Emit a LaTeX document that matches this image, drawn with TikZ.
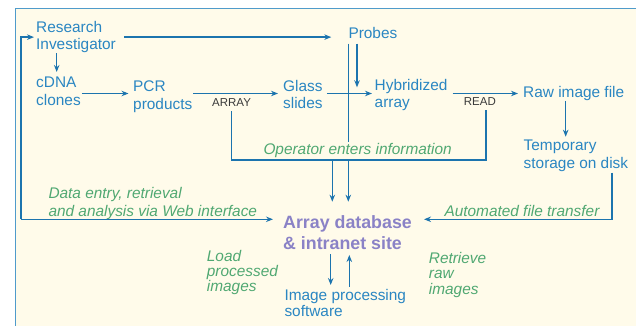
\documentclass[tikz,border=0pt]{standalone}
\usepackage{fontspec}
\setmainfont{Liberation Sans}
\usepackage{xcolor}
\usepackage{tikz}
\usetikzlibrary{arrows.meta, positioning}
\definecolor{frameblue}{HTML}{4F9BCB}
\definecolor{paper}{HTML}{FFFBEA}
\definecolor{flowblue}{HTML}{1C74AE}
\definecolor{textblue}{HTML}{2A86C2}
\definecolor{notegreen}{HTML}{50A872}
\definecolor{dbpurple}{HTML}{8A82C6}
\definecolor{tagdark}{HTML}{3A3A3A}
\tikzset{
  stage/.style={anchor=north west, inner sep=0pt, align=left, text=textblue, font=\fontsize{15.4}{17.5}\selectfont},
  note/.style={anchor=north west, inner sep=0pt, align=left, text=notegreen, font=\fontsize{15.4}{18}\selectfont\itshape},
  tag/.style={anchor=north west, inner sep=0pt, text=tagdark, font=\fontsize{11.5}{13}\selectfont},
  flow/.style={draw=flowblue, line width=1.3pt},
  flowarr/.style={flow, -{Stealth[length=7pt,width=5.5pt]}}
}
\begin{document}
\begin{tikzpicture}[x=1pt, y=-1pt]
  \useasboundingbox (0,0) rectangle (636,326);
  \fill[paper] (15.5,8.5) rectangle (636,326);
  \draw[frameblue, line width=1.5pt] (15.5,326) -- (15.5,8.5) -- (636,8.5);
  \node[stage] (research) at (36,21) {Research\\Investigator};
  \node[stage] (probes) at (348.3,27) {Probes};
  \node[stage] (cdna) at (36,77) {cDNA\\clones};
  \node[stage] (pcr) at (133,81) {PCR\\products};
  \node[stage] (glass) at (283,80) {Glass\\slides};
  \node[stage] (hyb) at (374.5,79) {Hybridized\\array};
  \node[stage] (raw) at (523,86) {Raw image file};
  \node[stage] (temp) at (523.5,140) {Temporary\\storage on disk};
  \node[stage, text=dbpurple, font=\fontsize{17.8}{21}\selectfont\bfseries] (db) at (283,215) {Array database\\\& intranet site};
  \node[stage, font=\fontsize{15.4}{16}\selectfont] (imgsoft) at (284.3,289.3) {Image processing\\software};
  \node[tag] (arraytag) at (212,98.7) {ARRAY};
  \node[tag] (readtag) at (463.7,97.7) {READ};
  \node[note] (webnote) at (48.3,187.3) {Data entry, retrieval\\and analysis via Web interface};
  \node[note] (autonote) at (444.3,205) {Automated file transfer};
  \node[note, font=\fontsize{15.4}{15.3}\selectfont\itshape] (loadnote) at (206.7,250) {Load\\processed\\images};
  \node[note, font=\fontsize{15.4}{15.3}\selectfont\itshape] (rawnote) at (428.7,252.3) {Retrieve\\raw\\images};
  \coordinate (rowy) at (0,93.5);
  \coordinate (opy) at (0,160);
  \coordinate (loop) at (21,219.3);
  \coordinate (hybin) at (357,87.3);
  \coordinate (opdrop) at (332.3,160);
  \coordinate (autocorner) at (612,219.3);
  \coordinate (procdown) at (330.7,0);
  \coordinate (procup) at (349.3,0);
  \coordinate (readfoot) at ([xshift=6pt]readtag.south);
  \coordinate (probefoot) at ([xshift=8.7pt]probes.south west);
  \coordinate (rawfoot) at ([xshift=-8pt]raw.south);
  \draw[flowarr, shorten >=2pt] (loop) |- (research.west);
  \draw[flowarr, shorten >=10pt] (loop) -- (loop -| db.west);
  \draw[flowarr, shorten <=8pt, shorten >=17pt] (research.east) -- (research.east -| probes.west);
  \draw[flowarr, shorten >=5pt] ([xshift=20.7pt]research.south west) -- ([xshift=20.7pt]research.south west |- cdna.north);
  \draw[flowarr, shorten <=1pt, shorten >=4.5pt] (cdna.east |- rowy) -- (pcr.west |- rowy);
  \draw[flowarr, shorten <=1pt, shorten >=5pt] (pcr.east |- rowy) -- (glass.west |- rowy);
  \draw[flowarr, shorten <=4pt, shorten >=2.5pt] (glass.east |- rowy) -- (hyb.west |- rowy);
  \draw[flowarr, shorten <=5pt, shorten >=5pt] (hyb.east |- rowy) -- (raw.west |- rowy);
  \draw[flowarr, shorten <=5pt, shorten >=13.3pt] (probes.south west) -- (probes.south west |- db.north);
  \draw[flowarr, shorten <=5pt] (probefoot) -- (hybin);
  \draw[flow, shorten <=4pt, shorten >=4pt] (arraytag.south) |- (readfoot |- opy) -- (readfoot);
  \draw[flowarr, shorten >=13.3pt] (opdrop) -- (opdrop |- db.north);
  \draw[flowarr, shorten >=3.3pt] (rawfoot) -- (rawfoot |- temp.north);
  \draw[flowarr, shorten <=1pt, shorten >=12pt] (temp.south -| autocorner) -- (autocorner) -- (autocorner -| db.east);
  \draw[flowarr, shorten <=5pt, shorten >=4.3pt] (db.south -| procdown) -- (imgsoft.north -| procdown);
  \draw[flowarr, shorten <=2.6pt, shorten >=5.5pt] (imgsoft.north -| procup) -- (db.south -| procup);
  \node[note, fill=paper, inner xsep=1pt, inner ysep=1.5pt] (opnote) at (262.3,141.5) {Operator enters information};
\end{tikzpicture}
\end{document}
